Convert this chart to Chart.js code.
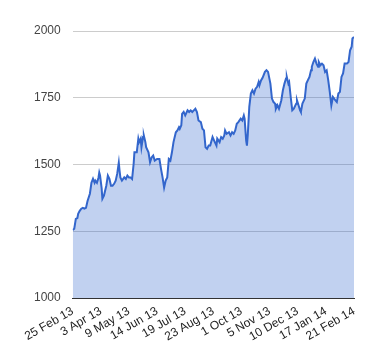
<!DOCTYPE html>
<html>
<head>
<meta charset="utf-8">
<script src="https://cdn.jsdelivr.net/npm/chart.js@4/dist/chart.umd.min.js"></script>
<style>
  html, body { margin: 0; padding: 0; background: #fff; }
  #wrap { width: 380px; height: 360px; }
</style>
</head>
<body>
<div id="wrap"><canvas id="c" width="380" height="360"></canvas></div>
<script>
// Day offsets from 25 Feb 13
const days = [0,2,4,6,7,9,11,13,15,17,19,22,24,26,28,29,31,33,34,35,37,38,40,43,45,47,49,51,53,55,57,59,60,61,63,66,68,70,72,74,76,78,79,82,84,85,87,88,90,91,93,94,97,99,101,103,105,108,111,113,115,117,119,121,123,125,127,129,132,134,136,137,139,140,142,144,147,149,151,153,155,157,159,161,164,166,168,170,172,174,176,179,181,184,185,188,190,192,194,195,197,200,202,204,206,208,210,212,215,217,219,220,222,223,224,226,228,230,232,234,236,238,239,241,243,246,248,250,253,255,257,259,260,262,264,267,269,271,273,274,276,277,279,281,283,286,287,289,291,292,294,297,299,301,303,305,306,308,310,312,314,315,317,319,321,323,325,327,329,331,333,336,338,340,342,344,346,348,351,353,355,357,358,360];
const values = [1255,1260,1297,1300,1316,1327,1335,1338,1335,1338,1364,1391,1432,1447,1432,1440,1432,1451,1470,1459,1413,1372,1384,1421,1459,1447,1421,1421,1428,1440,1466,1507,1477,1452,1440,1452,1446,1459,1452,1452,1446,1503,1546,1546,1597,1584,1597,1565,1603,1609,1584,1565,1546,1509,1527,1534,1515,1521,1521,1484,1452,1414,1440,1452,1521,1515,1546,1584,1621,1628,1640,1634,1647,1690,1697,1684,1703,1697,1703,1697,1703,1709,1697,1665,1659,1634,1628,1565,1559,1571,1571,1603,1590,1571,1597,1584,1603,1597,1609,1628,1615,1621,1609,1621,1615,1628,1653,1659,1672,1665,1684,1672,1590,1571,1609,1716,1766,1778,1766,1784,1791,1809,1797,1815,1825,1847,1853,1847,1803,1747,1734,1728,1709,1722,1709,1741,1778,1803,1822,1828,1803,1809,1753,1703,1709,1728,1741,1722,1703,1697,1728,1747,1803,1816,1828,1853,1866,1884,1897,1878,1866,1884,1872,1878,1872,1847,1853,1816,1772,1722,1753,1741,1734,1766,1772,1828,1841,1878,1878,1884,1928,1941,1972,1978];
const tickLabels = ['25 Feb 13','3 Apr 13','9 May 13','14 Jun 13','19 Jul 13','23 Aug 13','1 Oct 13','5 Nov 13','10 Dec 13','17 Jan 14','21 Feb 14'];
const yTicks = [1000,1250,1500,1750,2000];

const points = days.map((d, i) => ({ x: d, y: values[i] }));
const FONT = "Arial, 'Liberation Sans', sans-serif";

new Chart(document.getElementById('c'), {
  type: 'line',
  data: {
    datasets: [{
      data: points,
      borderColor: '#3366cc',
      borderWidth: 2,
      backgroundColor: 'rgba(51,102,204,0.3)',
      fill: 'start',
      pointRadius: 0,
      tension: 0
    }]
  },
  options: {
    responsive: false,
    animation: false,
    layout: { padding: { top: 31, right: 26, left: 22, bottom: 10 } },
    plugins: { legend: { display: false }, tooltip: { enabled: false } },
    scales: {
      x: {
        type: 'linear',
        min: 0,
        max: (tickLabels.length - 1) * 36,
        grid: { display: false, drawTicks: false },
        border: { display: true, color: '#333', width: 1 },
        ticks: {
          stepSize: 36,
          autoSkip: false,
          minRotation: 30,
          maxRotation: 30,
          padding: 6,
          color: '#222',
          font: { family: FONT, size: 12 },
          callback: (v) => tickLabels[Math.round(v / 36)]
        }
      },
      y: {
        min: yTicks[0],
        max: yTicks[yTicks.length - 1],
        grid: { color: '#cccccc', drawTicks: false },
        border: { display: false },
        afterBuildTicks: (axis) => { axis.ticks = yTicks.map(v => ({ value: v })); },
        ticks: {
          padding: 12,
          color: '#444',
          font: { family: FONT, size: 12 },
          callback: (v) => String(v)
        }
      }
    }
  }
});
</script>
</body>
</html>
